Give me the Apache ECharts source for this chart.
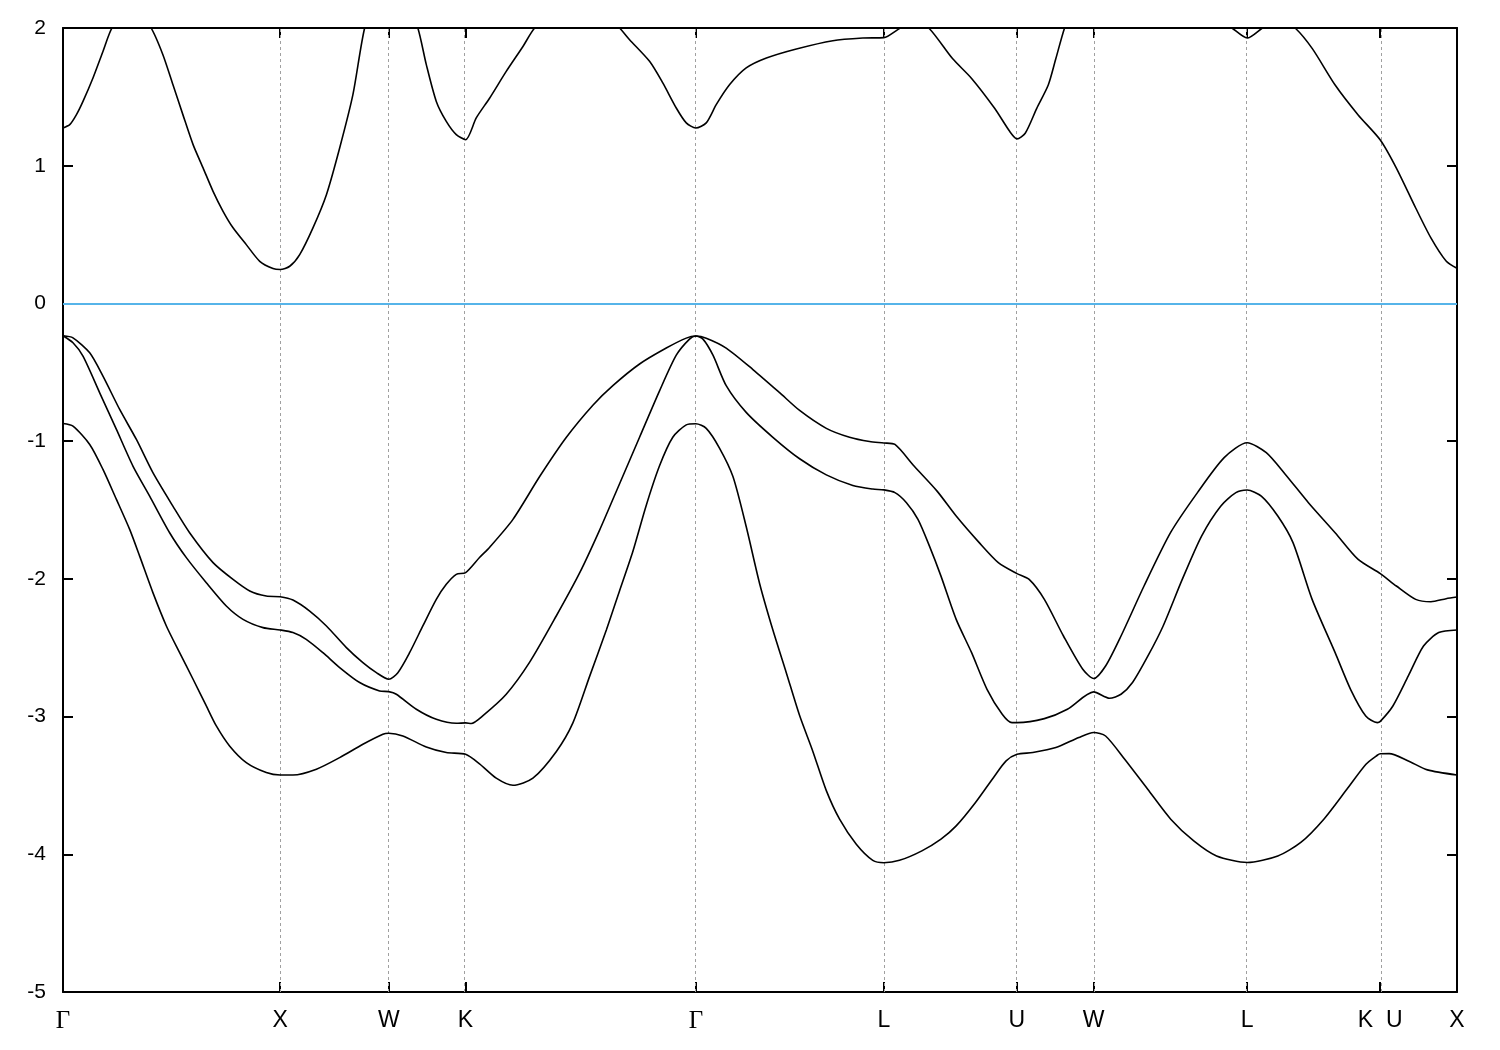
<!DOCTYPE html>
<html>
<head>
<meta charset="utf-8">
<script src="https://cdn.jsdelivr.net/npm/echarts@6/dist/echarts.min.js"></script>
<style>
  html, body { margin: 0; padding: 0; background: #fff; }
  #chart { width: 1500px; height: 1050px; }
</style>
</head>
<body>
<div id="chart"></div>
<script>
// High-symmetry points along the fcc path (k in units of 2π/a)
const kTicks = [0, 1, 1.5, 1.853553, 2.914214, 3.780239, 4.392611, 4.746165, 5.453272, 6.065644, 6.419197];
const kLabels = ['Γ', 'X', 'W', 'K', 'Γ', 'L', 'U', 'W', 'L', 'K  U', 'X'];
const yTicks = { min: -5, max: 2, interval: 1 };
const fermiLevel = 0;

// Valence band (split-off like, lowest)
const band1 = [[0,-0.872],[0.046,-0.891],[0.123,-1.024],[0.184,-1.205],[0.246,-1.423],[0.307,-1.641],[0.353,-1.835],[0.414,-2.100],[0.476,-2.342],[0.537,-2.536],[0.599,-2.729],[0.660,-2.923],[0.706,-3.068],[0.767,-3.213],[0.844,-3.334],[0.936,-3.406],[1.0,-3.424],[1.059,-3.424],[1.167,-3.382],[1.274,-3.298],[1.381,-3.201],[1.473,-3.128],[1.5,-3.121],[1.565,-3.141],[1.673,-3.221],[1.765,-3.261],[1.854,-3.274],[1.918,-3.343],[1.995,-3.447],[2.072,-3.499],[2.164,-3.447],[2.272,-3.253],[2.348,-3.046],[2.425,-2.708],[2.502,-2.372],[2.563,-2.086],[2.624,-1.801],[2.686,-1.465],[2.747,-1.179],[2.808,-0.972],[2.870,-0.882],[2.914,-0.874],[2.962,-0.907],[3.023,-1.050],[3.085,-1.257],[3.146,-1.620],[3.208,-2.035],[3.269,-2.372],[3.331,-2.683],[3.392,-2.993],[3.453,-3.253],[3.515,-3.538],[3.576,-3.745],[3.653,-3.927],[3.729,-4.044],[3.780,-4.061],[3.852,-4.044],[3.955,-3.975],[4.043,-3.890],[4.113,-3.794],[4.202,-3.624],[4.290,-3.431],[4.343,-3.322],[4.393,-3.274],[4.466,-3.261],[4.572,-3.225],[4.678,-3.152],[4.746,-3.116],[4.801,-3.141],[4.889,-3.310],[4.995,-3.528],[5.101,-3.745],[5.207,-3.903],[5.312,-4.012],[5.453,-4.060],[5.594,-4.012],[5.700,-3.914],[5.806,-3.745],[5.912,-3.528],[6.000,-3.346],[6.052,-3.281],[6.066,-3.270],[6.107,-3.269],[6.195,-3.322],[6.283,-3.387],[6.419,-3.424]];

// Valence band (light-hole like, middle)
const band2 = [[0,-0.235],[0.046,-0.286],[0.092,-0.383],[0.169,-0.649],[0.246,-0.915],[0.322,-1.181],[0.399,-1.399],[0.491,-1.665],[0.568,-1.846],[0.660,-2.028],[0.752,-2.197],[0.829,-2.294],[0.921,-2.354],[1.0,-2.371],[1.059,-2.390],[1.120,-2.439],[1.197,-2.536],[1.274,-2.644],[1.366,-2.753],[1.458,-2.814],[1.5,-2.819],[1.535,-2.838],[1.627,-2.947],[1.719,-3.020],[1.811,-3.049],[1.854,-3.046],[1.880,-3.05],[1.934,-2.993],[2.041,-2.838],[2.149,-2.605],[2.272,-2.268],[2.379,-1.957],[2.471,-1.646],[2.563,-1.309],[2.655,-0.972],[2.747,-0.635],[2.824,-0.376],[2.885,-0.259],[2.914,-0.237],[2.947,-0.259],[2.993,-0.376],[3.054,-0.597],[3.146,-0.791],[3.269,-0.972],[3.392,-1.128],[3.515,-1.245],[3.637,-1.322],[3.729,-1.348],[3.780,-1.354],[3.831,-1.374],[3.884,-1.447],[3.937,-1.568],[3.990,-1.762],[4.043,-1.980],[4.113,-2.294],[4.184,-2.536],[4.255,-2.802],[4.325,-2.983],[4.370,-3.044],[4.393,-3.044],[4.519,-3.015],[4.625,-2.947],[4.746,-2.821],[4.819,-2.867],[4.872,-2.838],[4.925,-2.753],[4.996,-2.560],[5.066,-2.342],[5.154,-2.004],[5.243,-1.689],[5.331,-1.472],[5.401,-1.374],[5.453,-1.355],[5.518,-1.399],[5.594,-1.544],[5.664,-1.737],[5.752,-2.149],[5.858,-2.536],[5.929,-2.802],[5.999,-2.996],[6.052,-3.044],[6.066,-3.035],[6.124,-2.923],[6.195,-2.705],[6.265,-2.488],[6.335,-2.390],[6.419,-2.371]];

// Valence band (heavy-hole like, top)
const band3 = [[0,-0.235],[0.046,-0.25],[0.123,-0.359],[0.184,-0.528],[0.261,-0.770],[0.338,-0.988],[0.414,-1.229],[0.506,-1.472],[0.583,-1.665],[0.691,-1.882],[0.783,-2.004],[0.860,-2.088],[0.936,-2.125],[1.0,-2.13],[1.059,-2.154],[1.136,-2.234],[1.213,-2.342],[1.305,-2.499],[1.381,-2.608],[1.443,-2.681],[1.5,-2.729],[1.542,-2.681],[1.596,-2.536],[1.657,-2.342],[1.719,-2.149],[1.765,-2.040],[1.811,-1.967],[1.854,-1.955],[1.918,-1.845],[1.965,-1.770],[2.072,-1.568],[2.195,-1.257],[2.318,-0.972],[2.440,-0.739],[2.532,-0.597],[2.655,-0.440],[2.778,-0.324],[2.870,-0.252],[2.914,-0.237],[2.962,-0.252],[3.054,-0.324],[3.177,-0.480],[3.300,-0.648],[3.392,-0.777],[3.515,-0.907],[3.622,-0.972],[3.714,-1.003],[3.780,-1.013],[3.831,-1.024],[3.919,-1.181],[4.025,-1.363],[4.113,-1.544],[4.219,-1.737],[4.307,-1.882],[4.393,-1.962],[4.449,-2.004],[4.519,-2.149],[4.607,-2.415],[4.696,-2.657],[4.746,-2.724],[4.801,-2.633],[4.872,-2.415],[4.978,-2.052],[5.100,-1.665],[5.224,-1.374],[5.347,-1.120],[5.453,-1.012],[5.541,-1.084],[5.629,-1.242],[5.735,-1.447],[5.858,-1.665],[5.964,-1.859],[6.066,-1.962],[6.140,-2.052],[6.229,-2.149],[6.299,-2.166],[6.369,-2.144],[6.419,-2.132]];

// Lowest conduction band (values above 2 eV are off the plot and get clipped)
const band4 = [[0,1.274],[0.031,1.298],[0.062,1.371],[0.092,1.467],[0.138,1.637],[0.184,1.830],[0.227,2.004],[0.315,2.17],[0.404,2.004],[0.460,1.806],[0.506,1.589],[0.552,1.371],[0.599,1.153],[0.645,0.984],[0.691,0.814],[0.737,0.669],[0.783,0.549],[0.844,0.427],[0.906,0.306],[0.967,0.253],[1.0,0.246],[1.044,0.270],[1.090,0.355],[1.151,0.549],[1.213,0.790],[1.274,1.129],[1.335,1.516],[1.389,2.0],[1.5,2.6],[1.634,2.0],[1.673,1.734],[1.719,1.467],[1.765,1.322],[1.811,1.226],[1.854,1.189],[1.903,1.347],[1.965,1.492],[2.041,1.685],[2.118,1.866],[2.172,2.0],[2.37,2.3],[2.563,2.0],[2.609,1.915],[2.701,1.758],[2.762,1.601],[2.824,1.419],[2.870,1.311],[2.914,1.274],[2.962,1.311],[3.008,1.443],[3.070,1.589],[3.146,1.710],[3.239,1.782],[3.377,1.848],[3.545,1.908],[3.683,1.927],[3.780,1.93],[3.844,1.988],[3.92,2.06],[3.990,1.995],[4.096,1.778],[4.184,1.634],[4.290,1.417],[4.360,1.248],[4.393,1.195],[4.431,1.236],[4.484,1.417],[4.537,1.586],[4.572,1.778],[4.611,1.995],[4.746,2.6],[5.1,2.3],[5.383,2.0],[5.453,1.927],[5.523,2.0],[5.6,2.08],[5.674,2.0],[5.753,1.850],[5.858,1.586],[5.964,1.369],[6.066,1.187],[6.140,0.983],[6.229,0.693],[6.299,0.476],[6.369,0.308],[6.419,0.255]];

const bands = [band1, band2, band3, band4];

const chart = echarts.init(document.getElementById('chart'), null, { renderer: 'canvas' });
const kMax = kTicks[kTicks.length - 1];

function xLabel(v) {
  let idx = 0, best = Infinity;
  kTicks.forEach((t, i) => { const d = Math.abs(t - v); if (d < best) { best = d; idx = i; } });
  const lab = kLabels[idx];
  return lab === 'Γ' ? '{g|Γ}' : lab;
}

const axisLineStyle = { color: '#000', width: 2 };
const tickStyle = { color: '#000', width: 2 };

const series = bands.map((b, i) => ({
  type: 'line',
  data: b,
  showSymbol: false,
  symbol: 'none',
  smooth: 0.25,
  clip: true,
  silent: true,
  z: 3,
  lineStyle: { color: '#000', width: 1.6 },
  xAxisIndex: 0,
  yAxisIndex: 0
}));

series[0].markLine = {
  silent: true,
  symbol: ['none', 'none'],
  label: { show: false },
  z: 1,
  lineStyle: { color: '#a0a0a0', type: [3, 3], width: 1 },
  data: kTicks.slice(1, -1).map(v => ({ xAxis: v }))
};
series[1].markLine = {
  silent: true,
  symbol: ['none', 'none'],
  label: { show: false },
  lineStyle: { color: '#56B4E9', type: 'solid', width: 2 },
  data: [{ yAxis: fermiLevel }]
};

chart.setOption({
  animation: false,
  backgroundColor: '#ffffff',
  grid: { left: 63, right: 43, top: 28, bottom: 58 },
  xAxis: [
    {
      type: 'value', min: 0, max: kMax, position: 'bottom',
      axisLine: { show: true, onZero: false, lineStyle: axisLineStyle },
      axisTick: { show: true, inside: true, length: 10, customValues: kTicks, lineStyle: tickStyle },
      splitLine: { show: false },
      axisLabel: {
        show: true, customValues: kTicks, margin: 17,
        color: '#000', fontSize: 23,
        fontFamily: '"Liberation Sans Narrow", "Liberation Sans", Arial, sans-serif',
        formatter: xLabel,
        rich: { g: { fontFamily: '"Liberation Serif", "DejaVu Serif", serif', fontSize: 25, color: '#000' } }
      }
    },
    {
      type: 'value', min: 0, max: kMax, position: 'top',
      axisLine: { show: true, onZero: false, lineStyle: axisLineStyle },
      axisTick: { show: true, inside: true, length: 10, customValues: kTicks, lineStyle: tickStyle },
      splitLine: { show: false },
      axisLabel: { show: false }
    }
  ],
  yAxis: [
    {
      type: 'value', min: yTicks.min, max: yTicks.max, interval: yTicks.interval, position: 'left',
      axisLine: { show: true, onZero: false, lineStyle: axisLineStyle },
      axisTick: { show: true, inside: true, length: 10, lineStyle: tickStyle },
      splitLine: { show: false },
      axisLabel: { color: '#000', fontSize: 21, margin: 17, fontFamily: '"Liberation Sans", Arial, sans-serif' }
    },
    {
      type: 'value', min: yTicks.min, max: yTicks.max, interval: yTicks.interval, position: 'right',
      axisLine: { show: true, onZero: false, lineStyle: axisLineStyle },
      axisTick: { show: true, inside: true, length: 10, lineStyle: tickStyle },
      splitLine: { show: false },
      axisLabel: { show: false }
    }
  ],
  series: series
});
</script>
</body>
</html>
